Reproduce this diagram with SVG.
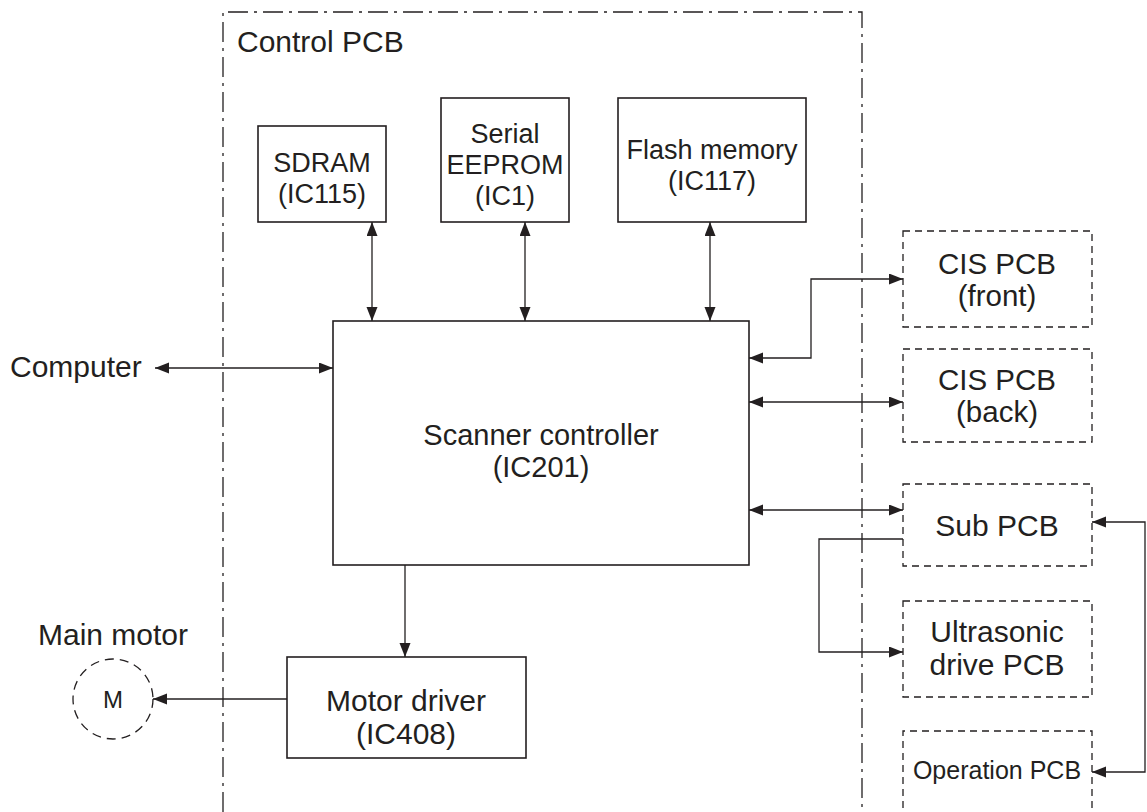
<svg xmlns="http://www.w3.org/2000/svg" width="1147" height="812" viewBox="0 0 1147 812">
<defs>
<marker id="ah" markerUnits="userSpaceOnUse" markerWidth="15" markerHeight="12" refX="14" refY="5.5" orient="auto-start-reverse" viewBox="0 0 15 12">
<path d="M0,0 L14,5.5 L0,11 z" fill="#231f20"/>
</marker>
<style>
text{font-family:"Liberation Sans",Arial,sans-serif;fill:#231f20;font-size:27px}
.c{text-anchor:middle}
.box{fill:#fff;stroke:#231f20;stroke-width:1.6}
.dbox{fill:none;stroke:#231f20;stroke-width:1.3;stroke-dasharray:7 5}
.ln{fill:none;stroke:#231f20;stroke-width:1.3}
.both{marker-start:url(#ah);marker-end:url(#ah)}
.end{marker-end:url(#ah)}
.s30{font-size:30px}
.s31{font-size:31px}
.s29{font-size:29.5px}
</style>
</defs>
<rect width="1147" height="812" fill="#fff"/>
<g id="control-pcb">
<path d="M223,812 V12 H862 V812" fill="none" stroke="#231f20" stroke-width="1.3" stroke-dasharray="20 6 3 6"/>
<text class="s30" x="237" y="52">Control PCB</text>
</g>
<g id="sdram"><rect class="box" x="258" y="126" width="128" height="96"/><text class="c" x="322" y="172">SDRAM</text><text class="c" x="322" y="203">(IC115)</text></g>
<g id="eeprom"><rect class="box" x="441" y="98" width="128" height="124"/><text class="c" x="505" y="143">Serial</text><text class="c" x="505" y="174">EEPROM</text><text class="c" x="505" y="205">(IC1)</text></g>
<g id="flash"><rect class="box" x="618" y="98" width="188" height="124"/><text class="c" x="712" y="159">Flash memory</text><text class="c" x="712" y="190">(IC117)</text></g>
<g id="scanner"><rect class="box" x="333" y="321" width="416" height="244"/><text class="c" x="541" y="445" style="font-size:29px">Scanner controller</text><text class="c" x="541" y="477" style="font-size:29px">(IC201)</text></g>
<g id="motor-driver"><rect class="box" x="287" y="657" width="239" height="101"/><text class="c s30" x="406" y="711">Motor driver</text><text class="c s30" x="406" y="744">(IC408)</text></g>
<g id="computer"><text class="s30" x="10" y="377">Computer</text></g>
<g id="main-motor"><text class="s30" x="38" y="645">Main motor</text><circle cx="113" cy="699" r="40" fill="none" stroke="#231f20" stroke-width="1.3" stroke-dasharray="9 6"/><text class="c" x="113" y="708" style="font-size:24px">M</text></g>
<g id="cis-front"><rect class="dbox" x="903" y="231" width="189" height="96"/><text class="c s29" x="997" y="274">CIS PCB</text><text class="c s29" x="997" y="306">(front)</text></g>
<g id="cis-back"><rect class="dbox" x="903" y="349" width="189" height="93"/><text class="c s29" x="997" y="390">CIS PCB</text><text class="c s29" x="997" y="422">(back)</text></g>
<g id="sub-pcb"><rect class="dbox" x="903" y="484" width="189" height="82"/><text class="c s30" x="997" y="536">Sub PCB</text></g>
<g id="ultrasonic"><rect class="dbox" x="903" y="601" width="189" height="96"/><text class="c s30" x="997" y="642">Ultrasonic</text><text class="c s30" x="997" y="675">drive PCB</text></g>
<g id="operation-pcb"><path class="dbox" d="M903,820 V731 H1092 V820"/><text class="c" x="997" y="779" style="font-size:25px">Operation PCB</text></g>
<g id="connectors">
<path class="ln both" d="M372,222 V321"/>
<path class="ln both" d="M525,222 V321"/>
<path class="ln both" d="M710,222 V321"/>
<path class="ln both" d="M155,368 H333"/>
<path class="ln end" d="M405,565 V657"/>
<path class="ln end" d="M287,699 H153"/>
<path class="ln both" d="M749,358 H811 V279 H903"/>
<path class="ln both" d="M749,402 H903"/>
<path class="ln both" d="M749,510 H903"/>
<path class="ln end" d="M903,539 H819 V652 H903"/>
<path class="ln both" d="M1092,522 H1145 V772 H1092"/>
</g>
</svg>
